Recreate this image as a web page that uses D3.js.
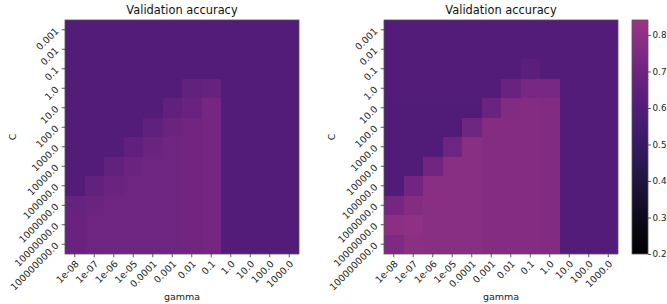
<!DOCTYPE html>
<html>
<head>
<meta charset="utf-8">
<script src="https://cdn.jsdelivr.net/npm/d3@7"></script>
<style>
  body { margin: 0; background: #fff; }
  svg { display: block; font-family: "DejaVu Sans", sans-serif; }
</style>
</head>
<body>
<svg id="chart" width="667" height="304"></svg>
<script>
// C values (rows) and gamma values (columns), as in the tick labels
const cLabels = ["0.001", "0.01", "0.1", "1.0", "10.0", "100.0", "1000.0", "10000.0",
    "100000.0", "1000000.0", "10000000.0", "100000000.0"];
const gammaLabels = ["1e-08", "1e-07", "1e-06", "1e-05", "0.0001", "0.001", "0.01", "0.1",
    "1.0", "10.0", "100.0", "1000.0"];

// validation accuracy, one row per C value
const accLeft = [
    [0.60, 0.60, 0.60, 0.60, 0.60, 0.60, 0.60, 0.60, 0.60, 0.60, 0.60, 0.60],
    [0.60, 0.60, 0.60, 0.60, 0.60, 0.60, 0.60, 0.60, 0.60, 0.60, 0.60, 0.60],
    [0.60, 0.60, 0.60, 0.60, 0.60, 0.60, 0.60, 0.60, 0.60, 0.60, 0.60, 0.60],
    [0.60, 0.60, 0.60, 0.60, 0.60, 0.60, 0.66, 0.67, 0.60, 0.60, 0.60, 0.60],
    [0.60, 0.60, 0.60, 0.60, 0.60, 0.65, 0.68, 0.72, 0.60, 0.60, 0.60, 0.60],
    [0.60, 0.60, 0.60, 0.60, 0.65, 0.69, 0.71, 0.72, 0.60, 0.60, 0.60, 0.60],
    [0.60, 0.60, 0.60, 0.65, 0.69, 0.70, 0.71, 0.72, 0.60, 0.60, 0.60, 0.60],
    [0.60, 0.60, 0.66, 0.69, 0.70, 0.70, 0.71, 0.72, 0.60, 0.60, 0.60, 0.60],
    [0.60, 0.66, 0.69, 0.70, 0.70, 0.70, 0.71, 0.72, 0.60, 0.60, 0.60, 0.60],
    [0.67, 0.69, 0.70, 0.70, 0.70, 0.70, 0.71, 0.72, 0.60, 0.60, 0.60, 0.60],
    [0.68, 0.70, 0.70, 0.70, 0.70, 0.70, 0.71, 0.72, 0.60, 0.60, 0.60, 0.60],
    [0.68, 0.70, 0.70, 0.70, 0.70, 0.70, 0.71, 0.72, 0.60, 0.60, 0.60, 0.60]
];

// same grid for the right panel
const accRight = [
    [0.60, 0.60, 0.60, 0.60, 0.60, 0.60, 0.60, 0.60, 0.60, 0.60, 0.60, 0.60],
    [0.60, 0.60, 0.60, 0.60, 0.60, 0.60, 0.60, 0.60, 0.60, 0.60, 0.60, 0.60],
    [0.60, 0.60, 0.60, 0.60, 0.60, 0.60, 0.60, 0.63, 0.60, 0.60, 0.60, 0.60],
    [0.60, 0.60, 0.60, 0.60, 0.60, 0.60, 0.68, 0.73, 0.73, 0.60, 0.60, 0.60],
    [0.59, 0.59, 0.59, 0.59, 0.59, 0.69, 0.76, 0.77, 0.76, 0.60, 0.60, 0.60],
    [0.59, 0.59, 0.59, 0.59, 0.70, 0.77, 0.77, 0.77, 0.76, 0.60, 0.60, 0.60],
    [0.59, 0.59, 0.59, 0.70, 0.78, 0.77, 0.77, 0.77, 0.76, 0.60, 0.60, 0.60],
    [0.59, 0.59, 0.71, 0.78, 0.78, 0.77, 0.77, 0.77, 0.76, 0.60, 0.60, 0.60],
    [0.59, 0.71, 0.78, 0.78, 0.78, 0.77, 0.77, 0.77, 0.76, 0.60, 0.60, 0.60],
    [0.72, 0.77, 0.78, 0.78, 0.78, 0.77, 0.77, 0.77, 0.76, 0.60, 0.60, 0.60],
    [0.79, 0.80, 0.78, 0.78, 0.78, 0.77, 0.77, 0.77, 0.76, 0.60, 0.60, 0.60],
    [0.75, 0.79, 0.78, 0.78, 0.78, 0.77, 0.77, 0.77, 0.76, 0.60, 0.60, 0.60]
];

const colorbarTicks = [0.2, 0.3, 0.4, 0.5, 0.6, 0.7, 0.8];

const svg = d3.select("#chart");
const fontSize = 9.5;
const tickLen = 3.3, tickPad = 3.3;

// dark-to-magenta colormap, black at 0.2
const vmin = 0.2, vmax = 0.841;
const color = d3.scaleLinear()
    .domain([0.2, 0.3, 0.4, 0.5, 0.6, 0.7, 0.841])
    .range(["#000000", "#0f0a1e", "#201540", "#381a64", "#531c79", "#6e2481", "#9b3584"])
    .interpolate(d3.interpolateRgb)
    .clamp(true);

function drawHeatmap(left, top, size, values) {
    const g = svg.append("g").attr("transform", `translate(${left},${top})`);

    const x = d3.scaleBand().domain(gammaLabels).range([0, size]);
    const y = d3.scaleBand().domain(cLabels).range([0, size]);

    const cells = [];
    values.forEach((row, i) => row.forEach((v, j) => cells.push({ c: cLabels[i], gamma: gammaLabels[j], v })));

    g.selectAll("rect.cell")
        .data(cells)
        .join("rect")
        .attr("class", "cell")
        .attr("x", d => x(d.gamma))
        .attr("y", d => y(d.c))
        .attr("width", x.bandwidth())
        .attr("height", y.bandwidth())
        .attr("shape-rendering", "crispEdges")
        .attr("fill", d => color(d.v));

    g.append("rect")
        .attr("width", size).attr("height", size)
        .attr("fill", "none").attr("stroke", "#555").attr("stroke-width", 0.8);

    const xAxis = g.append("g")
        .attr("transform", `translate(0,${size})`)
        .call(d3.axisBottom(x).tickSize(tickLen).tickPadding(tickPad));
    const yAxis = g.append("g")
        .call(d3.axisLeft(y).tickSize(tickLen).tickPadding(tickPad));

    [xAxis, yAxis].forEach(a => {
        a.select(".domain").remove();
        a.selectAll(".tick line").attr("stroke", "#333").attr("stroke-width", 0.8);
        a.selectAll(".tick text")
            .attr("font-size", fontSize)
            .attr("font-family", "DejaVu Sans")
            .attr("fill", "#222");
    });

    // labels turned 45 deg, their end sitting at the tick
    xAxis.selectAll(".tick text")
        .attr("x", 0).attr("y", 0).attr("dy", "0.35em")
        .attr("text-anchor", "end")
        .attr("transform", `translate(2.5,${tickLen + tickPad + 1.5}) rotate(-45)`);
    yAxis.selectAll(".tick text")
        .attr("x", 0).attr("y", 0).attr("dy", "0.35em")
        .attr("text-anchor", "end")
        .attr("transform", `translate(-8,-0.5) rotate(-45)`);

    g.append("text")
        .attr("x", size / 2).attr("y", -6)
        .attr("text-anchor", "middle")
        .attr("font-size", 11.4)
        .attr("fill", "#111")
        .text("Validation accuracy");

    g.append("text")
        .attr("x", size / 2).attr("y", size + 46)
        .attr("text-anchor", "middle")
        .attr("font-size", fontSize)
        .attr("fill", "#222")
        .text("gamma");

    g.append("text")
        .attr("transform", `translate(${-49},${size / 2}) rotate(-90)`)
        .attr("text-anchor", "middle")
        .attr("font-size", fontSize)
        .attr("fill", "#222")
        .text("C");
}

const plotTop = 20, plotSize = 234;
drawHeatmap(65, plotTop, plotSize, accLeft);
drawHeatmap(384, plotTop, plotSize, accRight);

// colorbar
const cbX = 632, cbW = 16;
const cbScale = d3.scaleLinear().domain([vmin, vmax]).range([plotTop + plotSize, plotTop]);
const grad = svg.append("defs").append("linearGradient")
    .attr("id", "cbgrad").attr("x1", 0).attr("y1", 1).attr("x2", 0).attr("y2", 0);
d3.range(0, 1.0001, 0.02).forEach(t => {
    grad.append("stop")
        .attr("offset", t)
        .attr("stop-color", color(vmin + t * (vmax - vmin)));
});
svg.append("rect")
    .attr("x", cbX).attr("y", plotTop)
    .attr("width", cbW).attr("height", plotSize)
    .attr("fill", "url(#cbgrad)")
    .attr("stroke", "#555").attr("stroke-width", 0.8);

const cbAxis = svg.append("g")
    .attr("transform", `translate(${cbX + cbW},0)`)
    .call(d3.axisRight(cbScale).tickValues(colorbarTicks).tickFormat(d3.format(".1f"))
        .tickSize(3).tickPadding(1.5));
cbAxis.select(".domain").remove();
cbAxis.selectAll(".tick line").attr("stroke", "#333").attr("stroke-width", 0.8);
cbAxis.selectAll(".tick text")
    .attr("font-size", 8.8)
    .attr("font-family", "DejaVu Sans")
    .attr("fill", "#222");
</script>
</body>
</html>
